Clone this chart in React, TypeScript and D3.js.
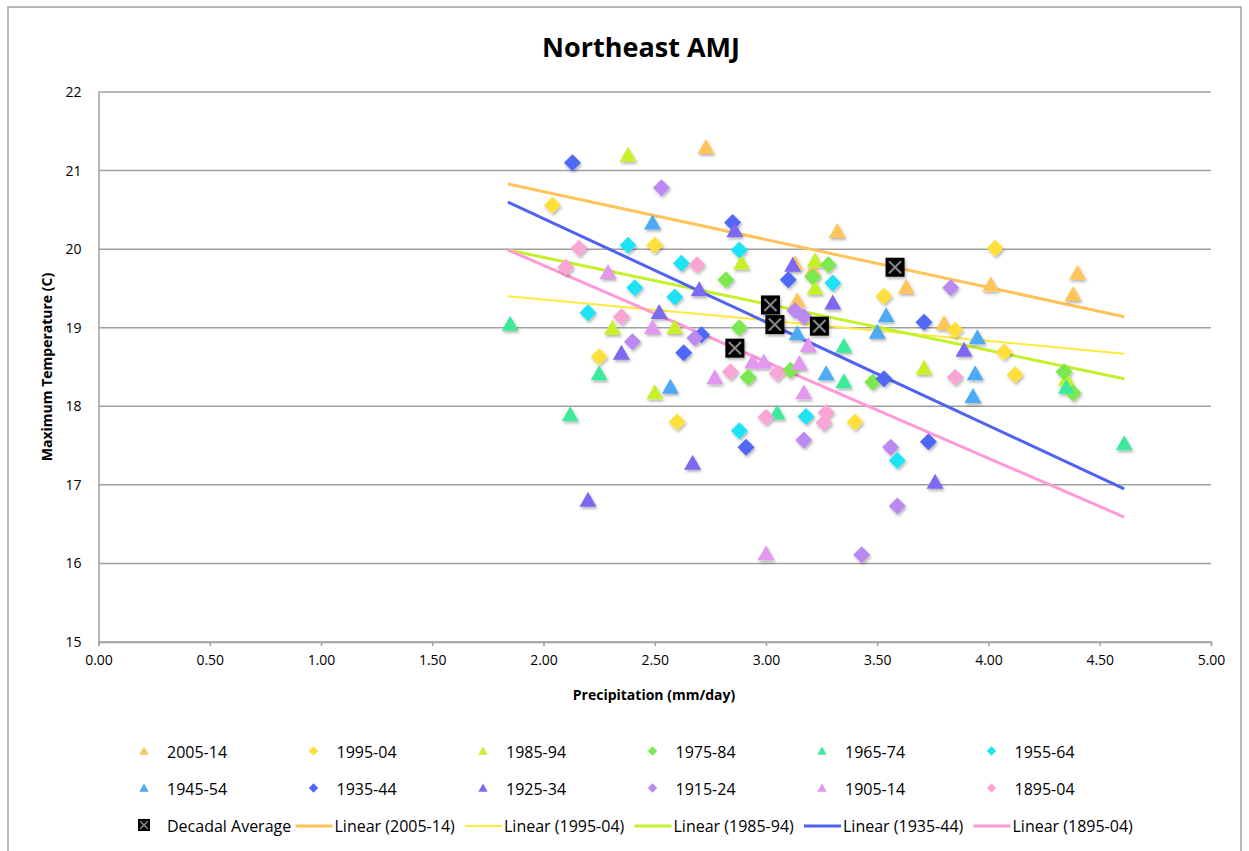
import { useEffect, useRef } from 'react'
import * as d3 from 'd3'

// [precipitation mm/day, max temperature C] per year, grouped by decade
const s2005_14 = [[2.73, 21.3], [3.32, 20.23], [3.13, 19.82], [3.14, 19.35], [3.63, 19.52], [4.01, 19.55], [4.4, 19.7], [4.38, 19.43], [3.8, 19.06], [3.21, 19.74]]
const s1995_04 = [[2.04, 20.56], [2.5, 20.05], [2.25, 18.63], [2.6, 17.8], [3.4, 17.8], [3.53, 19.4], [3.85, 18.97], [4.07, 18.69], [4.12, 18.4], [4.03, 20.01]]
const s1985_94 = [[2.38, 21.2], [2.89, 19.83], [2.31, 19.0], [2.5, 18.18], [3.22, 19.86], [3.22, 19.51], [3.71, 18.49], [2.59, 19.01], [4.35, 18.35], [3.02, 19.3]]
const s1975_84 = [[2.82, 19.61], [2.88, 19.0], [2.92, 18.37], [3.11, 18.46], [3.28, 19.8], [3.21, 19.65], [3.48, 18.31], [4.34, 18.44], [4.38, 18.17]]
const s1965_74 = [[1.85, 19.05], [2.12, 17.9], [2.25, 18.42], [3.05, 17.92], [3.35, 18.32], [3.35, 18.77], [4.35, 18.25], [4.61, 17.53]]
const s1955_64 = [[2.38, 20.05], [2.41, 19.51], [2.62, 19.82], [2.59, 19.39], [2.2, 19.19], [2.88, 19.99], [3.3, 19.57], [2.88, 17.69], [3.18, 17.87], [3.59, 17.31]]
const s1945_54 = [[2.49, 20.34], [2.57, 18.25], [3.14, 18.93], [3.27, 18.42], [3.95, 18.88], [3.94, 18.42], [3.93, 18.13], [3.54, 19.16], [3.5, 18.95]]
const s1935_44 = [[2.13, 21.1], [2.85, 20.34], [2.63, 18.68], [2.71, 18.91], [3.1, 19.61], [2.91, 17.48], [3.53, 18.35], [3.73, 17.55], [3.71, 19.07]]
const s1925_34 = [[2.2, 16.81], [2.67, 17.28], [2.35, 18.68], [2.52, 19.2], [2.7, 19.49], [2.86, 20.24], [3.12, 19.8], [3.3, 19.32], [3.89, 18.72], [3.76, 17.04]]
const s1915_24 = [[2.53, 20.78], [2.4, 18.82], [2.68, 18.87], [3.17, 17.57], [3.56, 17.48], [3.59, 16.73], [3.43, 16.11], [3.83, 19.51], [3.13, 19.22], [3.17, 19.14]]
const s1905_14 = [[2.29, 19.71], [2.49, 19.01], [2.77, 18.37], [3.0, 16.13], [3.17, 18.18], [2.94, 18.57], [2.99, 18.57], [3.15, 18.55], [3.19, 18.78]]
const s1895_04 = [[2.16, 20.01], [2.1, 19.77], [2.35, 19.14], [2.69, 19.8], [2.84, 18.44], [3.0, 17.86], [3.26, 17.79], [3.27, 17.92], [3.05, 18.42], [3.85, 18.37]]

const decadeLabels = ['2005-14', '1995-04', '1985-94', '1975-84', '1965-74', '1955-64', '1945-54', '1935-44', '1925-34', '1915-24', '1905-14', '1895-04']

const decadalAvgX = [3.58, 3.24, 3.02, 3.04, 2.86]
const decadalAvgY = [19.77, 19.02, 19.29, 19.04, 18.74]

const trendLabels = ['Linear (2005-14)', 'Linear (1995-04)', 'Linear (1985-94)', 'Linear (1935-44)', 'Linear (1895-04)']
const trendX = [1.84, 4.61]
const trendYStart = [20.83, 19.4, 19.99, 20.6, 19.99]
const trendYEnd = [19.14, 18.67, 18.35, 16.95, 16.59]

const xTicks = [0, 0.5, 1, 1.5, 2, 2.5, 3, 3.5, 4, 4.5, 5]
const yTicks = [15, 16, 17, 18, 19, 20, 21, 22]

const seriesData = [s2005_14, s1995_04, s1985_94, s1975_84, s1965_74, s1955_64, s1945_54, s1935_44, s1925_34, s1915_24, s1905_14, s1895_04]
const seriesColors = ['#FFC45C', '#FFE03A', '#C8F02C', '#7CE84F', '#3DEA9C', '#1EE3F5', '#4EAAF5', '#4F67F5', '#7D68F1', '#BA8AF2', '#E298EF', '#FAA6D5']
const seriesShapes = ['tri', 'dia', 'tri', 'dia', 'tri', 'dia', 'tri', 'dia', 'tri', 'dia', 'tri', 'dia']
const trendColors = ['#FFC35A', '#FFE93A', '#C4F02C', '#4E62F4', '#FF9AD6']
const trendWidths = [3, 2, 3, 3, 3]

const FONT = '"Open Sans", "Liberation Sans", sans-serif'

function shapePath(shape: string, k: number) {
  if (shape === 'tri') return `M0,${-8 * k}L${8.5 * k},${7 * k}L${-8.5 * k},${7 * k}Z`
  return `M0,${-8.5 * k}L${8.5 * k},0L0,${8.5 * k}L${-8.5 * k},0Z`
}

export default function App() {
  const svgRef = useRef<SVGSVGElement | null>(null)

  useEffect(() => {
    if (!svgRef.current) return
    const width = 1249
    const height = 851
    const plot = { left: 98.5, right: 1211, top: 92, bottom: 642 }

    const svg = d3.select(svgRef.current)
    svg.selectAll('*').remove()
    svg.attr('width', width).attr('height', height)

    const defs = svg.append('defs')
    const shadow = defs.append('filter').attr('id', 'shadow').attr('x', '-50%').attr('y', '-50%').attr('width', '200%').attr('height', '200%')
    shadow.append('feDropShadow').attr('dx', 1.2).attr('dy', 2).attr('stdDeviation', 1.4)
      .attr('flood-color', '#000').attr('flood-opacity', 0.3)

    // outer frame
    svg.append('rect')
      .attr('x', 8).attr('y', 7).attr('width', 1233).attr('height', 860)
      .attr('fill', '#fff').attr('stroke', '#a3a3a3').attr('stroke-width', 1.5)

    // Title
    svg.append('text')
      .attr('x', 641).attr('y', 57)
      .attr('text-anchor', 'middle')
      .style('font-family', FONT).style('font-size', '27px').style('font-weight', 'bold')
      .text('Northeast AMJ')

    const x = d3.scaleLinear().domain([0, 5]).range([plot.left, plot.right])
    const y = d3.scaleLinear().domain([15, 22]).range([plot.bottom, plot.top])

    // gridlines
    svg.append('g').selectAll('line').data(yTicks).enter().append('line')
      .attr('x1', plot.left).attr('x2', plot.right)
      .attr('y1', d => y(d)).attr('y2', d => y(d))
      .attr('stroke', '#a0a0a0').attr('stroke-width', 1.5)

    // axes
    const xAxis = svg.append('g')
      .attr('transform', `translate(0, ${plot.bottom})`)
      .call(d3.axisBottom(x).tickValues(xTicks).tickFormat(d3.format('.2f')).tickSize(4).tickPadding(9))
    const yAxis = svg.append('g')
      .attr('transform', `translate(${plot.left}, 0)`)
      .call(d3.axisLeft(y).tickValues(yTicks).tickFormat(d3.format('d')).tickSize(0).tickPadding(17))
    for (const g of [xAxis, yAxis]) {
      g.select('.domain').attr('stroke', '#a0a0a0').attr('stroke-width', 1.5)
      g.selectAll('.tick line').attr('stroke', '#a0a0a0').attr('stroke-width', 1.5)
      g.selectAll('.tick text').attr('fill', '#000').style('font-family', FONT).style('font-size', '14px')
    }

    svg.append('text')
      .attr('x', 654).attr('y', 700)
      .attr('text-anchor', 'middle')
      .style('font-family', FONT).style('font-size', '14px').style('font-weight', 'bold')
      .text('Precipitation (mm/day)')

    svg.append('text')
      .attr('transform', 'translate(52, 367) rotate(-90)')
      .attr('text-anchor', 'middle')
      .style('font-family', FONT).style('font-size', '14px').style('font-weight', 'bold')
      .text('Maximum Temperature (C)')

    // trendlines
    const line = d3.line<number[]>().x(d => x(d[0])).y(d => y(d[1]))
    trendLabels.forEach((_, i) => {
      svg.append('path')
        .datum([[trendX[0], trendYStart[i]], [trendX[1], trendYEnd[i]]])
        .attr('d', line)
        .attr('fill', 'none')
        .attr('stroke', trendColors[i])
        .attr('stroke-width', trendWidths[i])
    })

    // scatter markers
    const markers = svg.append('g').attr('filter', 'url(#shadow)')
    seriesData.forEach((data, i) => {
      markers.append('g').selectAll('path').data(data).enter().append('path')
        .attr('transform', d => `translate(${x(d[0])}, ${y(d[1])})`)
        .attr('d', shapePath(seriesShapes[i], 1))
        .attr('fill', seriesColors[i])
    })

    // decadal averages
    const drawBox = (g: any, s: number) => {
      g.append('rect').attr('x', -s / 2).attr('y', -s / 2).attr('width', s).attr('height', s).attr('fill', '#000')
      const k = s / 2 - s * 0.18
      g.append('path').attr('d', `M${-k},${-k}L${k},${k}M${k},${-k}L${-k},${k}`)
        .attr('stroke', '#8a8a8a').attr('stroke-width', s > 14 ? 2 : 1.5)
    }
    decadalAvgX.forEach((dx, i) => {
      const g = svg.append('g').attr('transform', `translate(${x(dx)}, ${y(decadalAvgY[i])})`).attr('filter', 'url(#shadow)')
      drawBox(g, 19)
    })

    // legend
    const colX = (c: number) => 144 + c * 169.5
    const rowY = [752, 789, 826]
    const legend = svg.append('g').style('font-family', FONT).style('font-size', '16px')
    decadeLabels.forEach((label, i) => {
      const c = i % 6
      const r = Math.floor(i / 6)
      legend.append('path')
        .attr('transform', `translate(${colX(c)}, ${rowY[r] - 1})`)
        .attr('d', shapePath(seriesShapes[i], 0.55))
        .attr('fill', seriesColors[i])
      legend.append('text').attr('x', colX(c) + 23).attr('y', rowY[r] + 6).text(label)
    })
    const boxG = legend.append('g').attr('transform', `translate(${colX(0)}, ${rowY[2] - 1})`)
    drawBox(boxG, 12)
    legend.append('text').attr('x', colX(0) + 23).attr('y', rowY[2] + 6).text('Decadal Average')
    trendLabels.forEach((label, i) => {
      const cx = colX(i + 1)
      legend.append('line')
        .attr('x1', cx - 18).attr('x2', cx + 19)
        .attr('y1', rowY[2]).attr('y2', rowY[2])
        .attr('stroke', trendColors[i]).attr('stroke-width', trendWidths[i])
      legend.append('text').attr('x', cx + 21).attr('y', rowY[2] + 6).text(label)
    })
  }, [])

  return (
    <div style={{ position: 'absolute', left: 0, top: 0 }}>
      <svg ref={svgRef}></svg>
    </div>
  )
}
